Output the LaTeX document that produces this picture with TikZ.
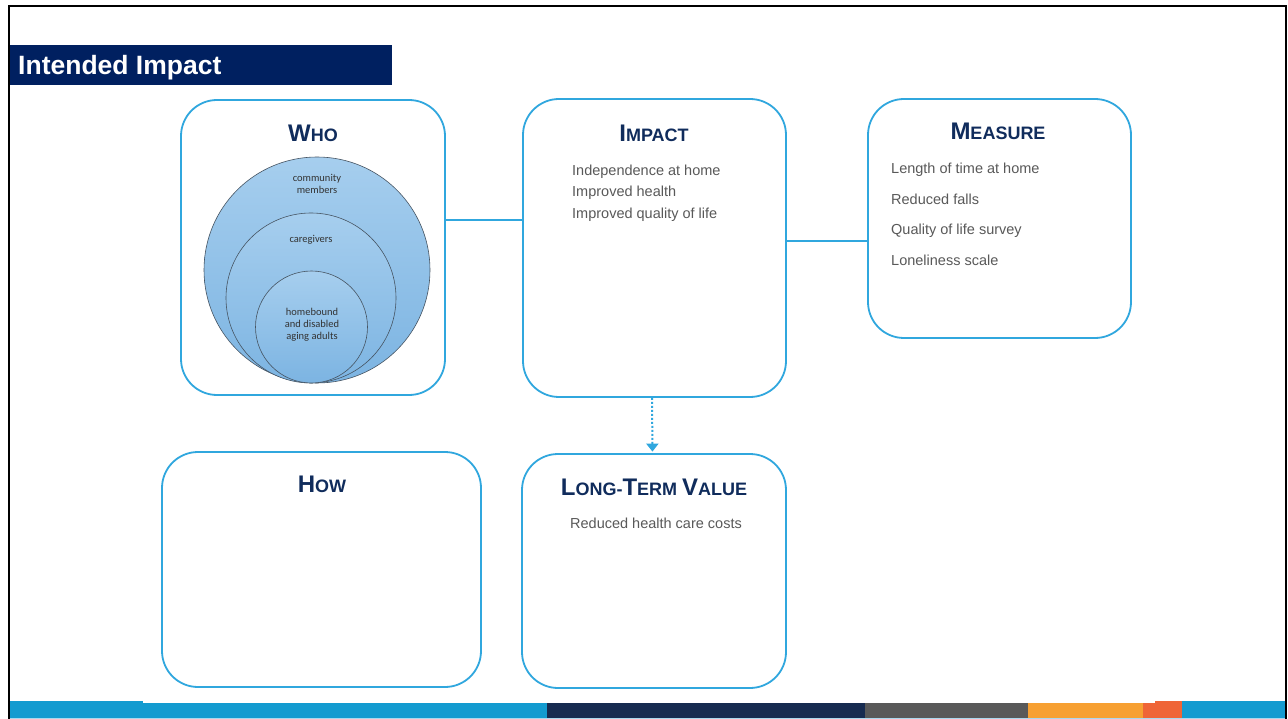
\documentclass[tikz,border=0pt]{standalone}
\usepackage{fontspec}
\setmainfont{Liberation Sans}
\newfontfamily\calibrifont{Carlito}
\usetikzlibrary{arrows.meta}

\definecolor{navy}{RGB}{0,32,96}
\definecolor{headnavy}{RGB}{16,44,92}
\definecolor{boxblue}{RGB}{48,167,222}
\definecolor{txtgrey}{RGB}{89,89,89}
\definecolor{ringtop}{RGB}{166,206,238}
\definecolor{ringbot}{RGB}{124,180,226}
\definecolor{ringline}{RGB}{70,84,98}
\definecolor{barblue}{RGB}{19,155,208}
\definecolor{barnavy}{RGB}{23,43,80}
\definecolor{bargrey}{RGB}{89,89,89}
\definecolor{barorange}{RGB}{247,160,50}
\definecolor{barred}{RGB}{239,101,55}
\definecolor{barlight}{RGB}{170,216,238}

% fake small caps for the panel headings
\newcommand{\capbig}[1]{{\fontsize{24}{26}\selectfont #1}}
\newcommand{\capsmall}[1]{{\fontsize{18}{20}\selectfont #1}}

\tikzset{
  panel/.style={draw=boxblue, line width=1.8pt, rounded corners=36pt, fill=white, rectangle},
  head/.style={text=headnavy, font=\bfseries, inner sep=0pt},
  item/.style={text=txtgrey, font=\fontsize{14.5}{17}\selectfont, anchor=base west, inner sep=0pt},
  ring/.style={circle, draw=ringline, line width=0.6pt, top color=ringtop, bottom color=ringbot, inner sep=0pt},
  ringtext/.style={text=black!80, font=\calibrifont\fontsize{10.5}{12}\selectfont, align=center, inner sep=0pt},
  link/.style={draw=boxblue, line width=2pt},
}

\begin{document}
\begin{tikzpicture}[x=1pt, y=-1pt]
	\useasboundingbox (0,0) rectangle (1288,719);
	\fill[white] (0,0) rectangle (1288,719);
	
	% slide frame
	\draw[line width=2.2pt] (9.3,719) -- (9.3,6.3) -- (1286,6.3) -- (1286,719);
	
	% title bar
	\fill[navy] (10,45) rectangle (392,85);
	\node[anchor=base west, text=white, font=\bfseries\fontsize{26.5}{28}\selectfont, inner sep=0pt] (title) at (18,75) {Intended Impact};
	
	% panels
	\node[panel, minimum width=264pt, minimum height=295pt] (who) at (313,247.5) {};
	\node[panel, minimum width=263pt, minimum height=298pt] (impact) at (654.5,248) {};
	\node[panel, minimum width=263pt, minimum height=239pt] (measure) at (999.5,218.5) {};
	\node[panel, minimum width=319pt, minimum height=235pt] (how) at (321.5,569.5) {};
	\node[panel, minimum width=264pt, minimum height=234pt] (value) at (654,571) {};
	
	% headings
	\node[head] (whohead) at (313,133) {\capbig{W}\capsmall{HO}};
	\node[head] (impacthead) at (654,133) {\capbig{I}\capsmall{MPACT}};
	\node[head] (measurehead) at (998,131) {\capbig{M}\capsmall{EASURE}};
	\node[head] (howhead) at (322,484) {\capbig{H}\capsmall{OW}};
	\node[head] (valuehead) at (654,487) {\capbig{L}\capsmall{ONG-}\capbig{T}\capsmall{ERM }\capbig{V}\capsmall{ALUE}};
	
	% who circles
	\node[ring, minimum size=226pt] (outer) at (317,270) {};
	\node[ring, minimum size=170pt] (middle) at (311,298) {};
	\node[ring, minimum size=112pt] (inner) at (311.5,327) {};
	\node[ringtext] (community) at (317,184) {community\\members};
	\node[ringtext] (caregivers) at (311,240) {caregivers};
	\node[ringtext] (homebound) at (312,325) {homebound\\and disabled\\aging adults};
	
	% impact items
	\node[item] (imp1) at (572,175.2) {Independence at home};
	\node[item] (imp2) at (572,196.7) {Improved health};
	\node[item] (imp3) at (572,218.2) {Improved quality of life};
	
	% measure items
	\node[item] (mes1) at (891,173.7) {Length of time at home};
	\node[item] (mes2) at (891,204.2) {Reduced falls};
	\node[item] (mes3) at (891,234.7) {Quality of life survey};
	\node[item] (mes4) at (891,265.2) {Loneliness scale};
	
	% long-term value item
	\node[item, anchor=base] (val1) at (656,528.7) {Reduced health care costs};
	
	% connectors
	\draw[link] ([yshift=27.5pt]who.east) -- ([yshift=28pt]impact.west);
	\draw[link] ([yshift=7pt]impact.east) -- ([yshift=-22.5pt]measure.west);
	\draw[boxblue, line width=2pt, dotted, -{Triangle[width=12pt,length=8pt,fill=boxblue]}, shorten >=1.5pt]
		([xshift=-2.5pt]impact.south) -- ([xshift=-1.5pt]value.north);
	
	% bottom bar
	\foreach \a/\b/\c in {10/547/barblue, 547/865/barnavy, 865/1028/bargrey, 1028/1143/barorange, 1143/1182/barred, 1182/1284.5/barblue}
		\fill[\c] (\a,701) rectangle (\b,717.5);
	\fill[barlight] (10,717.5) rectangle (1284.5,719);
	\fill[white] (143,697) rectangle (1155,702.7);
\end{tikzpicture}
\end{document}
